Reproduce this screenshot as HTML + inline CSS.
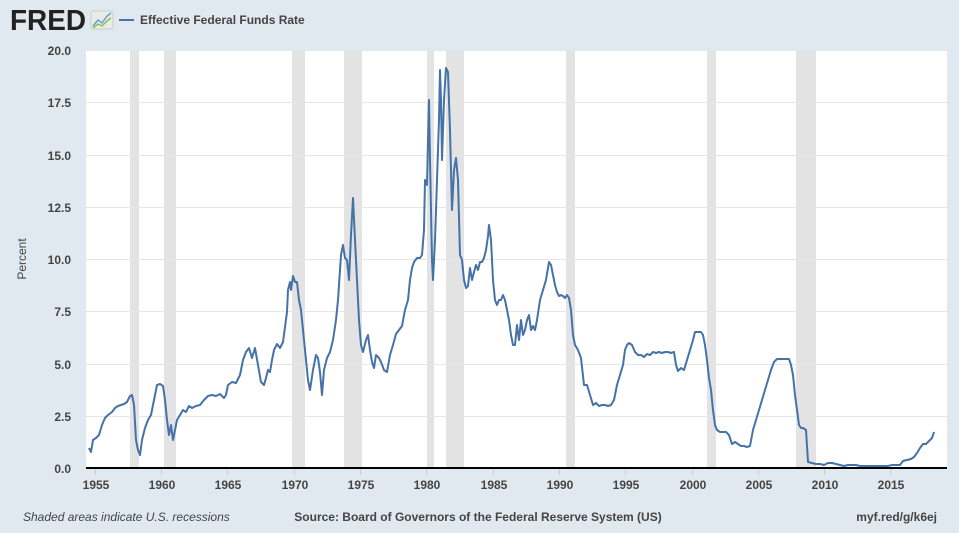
<!DOCTYPE html>
<html><head><meta charset="utf-8"><style>
body{margin:0;width:959px;height:528px;background:#e1e9f0;font-family:"Liberation Sans",sans-serif;overflow:hidden}
</style></head><body>
<svg width="959" height="528" xmlns="http://www.w3.org/2000/svg" font-family="Liberation Sans, sans-serif">
<rect width="959" height="528" fill="#e1e9f0"/>
<text x="10" y="30" font-size="29" font-weight="bold" fill="#222" textLength="76" lengthAdjust="spacingAndGlyphs">FRED</text>
<rect x="91" y="11" width="22" height="18" rx="2" fill="#e8ece8" stroke="#ccc"/>
<polyline points="93,26 98,20 102,23 107,16 111,13" fill="none" stroke="#6a9fd0" stroke-width="1.5"/>
<polyline points="93,28 98,24 102,26 107,21 111,18" fill="none" stroke="#8bbf5a" stroke-width="1.5"/>
<line x1="119" y1="20" x2="134" y2="20" stroke="#4572a7" stroke-width="2"/>
<text x="140" y="24" font-size="12" font-weight="bold" fill="#444">Effective Federal Funds Rate</text>
<rect x="86" y="50" width="861" height="418" fill="#fff"/>
<g fill="#e3e3e3">
<rect x="130" y="50" width="9" height="418"/><rect x="164" y="50" width="12" height="418"/><rect x="292" y="50" width="13" height="418"/><rect x="344" y="50" width="18" height="418"/><rect x="427" y="50" width="7" height="418"/><rect x="446" y="50" width="18" height="418"/><rect x="566" y="50" width="9" height="418"/><rect x="707" y="50" width="9" height="418"/><rect x="796" y="50" width="20" height="418"/>
</g>
<g stroke="#e6e6e6" stroke-width="1">
<line x1="86" x2="947" y1="50.5" y2="50.5"/><line x1="86" x2="947" y1="102.5" y2="102.5"/><line x1="86" x2="947" y1="155.5" y2="155.5"/><line x1="86" x2="947" y1="207.5" y2="207.5"/><line x1="86" x2="947" y1="259.5" y2="259.5"/><line x1="86" x2="947" y1="311.5" y2="311.5"/><line x1="86" x2="947" y1="364.5" y2="364.5"/><line x1="86" x2="947" y1="416.5" y2="416.5"/>
</g>
<g font-size="12" font-weight="bold" fill="#444" text-anchor="end">
<text x="71" y="55">20.0</text><text x="71" y="107">17.5</text><text x="71" y="160">15.0</text><text x="71" y="212">12.5</text><text x="71" y="264">10.0</text><text x="71" y="316">7.5</text><text x="71" y="369">5.0</text><text x="71" y="421">2.5</text><text x="71" y="473">0.0</text>
</g>
<text transform="translate(26,259) rotate(-90)" font-size="12" fill="#444" text-anchor="middle">Percent</text>
<g stroke="#ccc"><line x1="95.5" x2="95.5" y1="469" y2="475"/><line x1="161.5" x2="161.5" y1="469" y2="475"/><line x1="227.5" x2="227.5" y1="469" y2="475"/><line x1="294.5" x2="294.5" y1="469" y2="475"/><line x1="360.5" x2="360.5" y1="469" y2="475"/><line x1="426.5" x2="426.5" y1="469" y2="475"/><line x1="493.5" x2="493.5" y1="469" y2="475"/><line x1="559.5" x2="559.5" y1="469" y2="475"/><line x1="625.5" x2="625.5" y1="469" y2="475"/><line x1="692.5" x2="692.5" y1="469" y2="475"/><line x1="758.5" x2="758.5" y1="469" y2="475"/><line x1="824.5" x2="824.5" y1="469" y2="475"/><line x1="890.5" x2="890.5" y1="469" y2="475"/></g>
<g font-size="12" font-weight="bold" fill="#444" text-anchor="middle">
<text x="96" y="489">1955</text><text x="162" y="489">1960</text><text x="228" y="489">1965</text><text x="295" y="489">1970</text><text x="361" y="489">1975</text><text x="427" y="489">1980</text><text x="494" y="489">1985</text><text x="560" y="489">1990</text><text x="626" y="489">1995</text><text x="693" y="489">2000</text><text x="759" y="489">2005</text><text x="825" y="489">2010</text><text x="891" y="489">2015</text>
</g>
<line x1="86" x2="947" y1="468" y2="468" stroke="#000" stroke-width="2"/>
<polyline fill="none" stroke="#4572a7" stroke-width="2" stroke-linejoin="round" points="89,448 91,452 93,440 96,438 99,435 102,425 105,418 108,415 112,412 115,408 118,406 121,405 124,404 127,402 130,396 132,395 134,405 136,440 138,450 140,455 142,440 145,428 148,420 151,415 154,400 157,385 160,384 163,386 165,400 167,420 169,435 171,425 173,440 175,430 177,420 180,415 183,410 186,412 189,406 192,408 196,406 200,405 204,400 208,396 212,395 216,396 220,394 224,398 226,395 228,385 232,382 236,383 240,375 243,360 246,352 249,348 252,358 255,348 258,365 261,382 264,385 266,378 268,370 270,372 272,360 274,350 277,344 280,348 283,342 285,327 287,312 288,290 290,282 291,290 293,276 295,282 297,282 299,300 301,310 304,340 306,360 308,380 310,390 313,370 316,355 318,358 320,372 322,395 324,370 327,358 330,352 333,340 336,320 338,300 341,255 343,245 345,258 347,260 349,280 351,235 353,198 355,240 357,280 359,320 361,345 363,352 366,340 368,335 370,350 372,362 374,368 376,355 379,358 381,362 384,370 387,372 390,355 393,345 396,334 399,330 402,326 405,310 408,300 410,280 412,268 414,262 417,258 420,258 422,255 424,230 425,180 427,185 428,140 429,100 430,160 432,260 433,280 435,240 437,180 439,120 440,70 441,100 442,160 444,100 446,68 448,72 450,130 452,210 454,170 456,158 458,180 460,255 462,260 464,280 466,288 468,286 470,268 472,280 474,272 476,265 478,270 480,262 482,262 484,258 486,250 488,236 489,225 491,240 493,280 495,300 497,305 499,300 501,300 503,295 505,300 507,310 509,320 511,335 513,345 515,345 517,325 519,340 521,320 523,335 525,330 527,320 529,315 531,330 533,326 535,330 537,320 540,300 543,290 546,280 549,262 551,265 553,275 555,285 557,292 559,296 561,295 563,296 565,298 567,295 569,298 571,310 573,335 575,345 578,350 581,358 584,385 587,385 590,395 593,405 596,403 599,406 602,405 605,405 608,406 611,405 614,400 617,385 620,375 623,365 625,350 627,345 629,343 632,345 635,352 638,355 641,355 644,357 647,354 650,355 653,352 656,353 659,352 662,353 665,352 668,352 671,353 674,352 676,365 678,371 681,368 684,370 687,360 690,350 693,340 695,332 698,332 701,332 703,335 705,345 707,360 709,378 711,390 713,410 715,425 717,430 720,432 723,432 726,432 729,435 732,444 735,442 738,444 741,446 744,446 747,447 750,446 753,430 756,420 759,410 762,400 765,390 768,380 771,370 774,362 777,359 780,359 783,359 786,359 789,359 791,365 793,375 795,395 797,410 799,425 801,428 803,428 806,430 808,462 812,463 816,464 820,464 824,465 828,463 832,463 836,464 840,465 844,466 848,465 852,465 856,465 860,466 864,466 868,466 872,466 876,466 880,466 884,466 888,466 892,465 896,465 900,465 903,461 907,460 911,459 914,457 917,453 920,448 923,444 926,444 929,441 932,438 934,432"/>
<text x="23" y="521" font-size="12" font-style="italic" fill="#444">Shaded areas indicate U.S. recessions</text>
<text x="478" y="521" font-size="12" font-weight="bold" fill="#444" text-anchor="middle">Source: Board of Governors of the Federal Reserve System (US)</text>
<text x="937" y="521" font-size="12" font-weight="bold" fill="#444" text-anchor="end">myf.red/g/k6ej</text>
</svg>
</body></html>
